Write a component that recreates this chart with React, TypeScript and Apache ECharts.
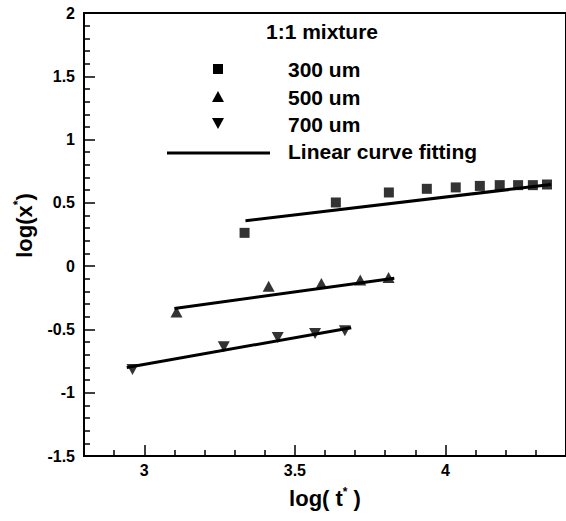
import React, { useEffect, useRef } from 'react';
import * as echarts from 'echarts';

// Measured data (log t*, log x*)
const t300 = [3.333, 3.636, 3.812, 3.938, 4.034, 4.114, 4.18, 4.241, 4.29, 4.337];
const x300 = [0.263, 0.503, 0.582, 0.611, 0.622, 0.634, 0.64, 0.64, 0.64, 0.645];
const t500 = [3.107, 3.413, 3.588, 3.717, 3.811];
const x500 = [-0.363, -0.158, -0.137, -0.11, -0.089];
const t700 = [2.961, 3.264, 3.443, 3.567, 3.666];
const x700 = [-0.816, -0.637, -0.563, -0.532, -0.511];

// Linear fits (end points)
const fitT300 = [3.336, 4.35];
const fitX300 = [0.358, 0.645];
const fitT500 = [3.1, 3.83];
const fitX500 = [-0.335, -0.095];
const fitT700 = [2.942, 3.687];
const fitX700 = [-0.8, -0.487];

const xMajorTicks = [3, 3.5, 4];
const xMinorTicks = [2.9, 3.1, 3.2, 3.3, 3.4, 3.6, 3.7, 3.8, 3.9, 4.1, 4.2, 4.3];

const legendTitle = '1:1 mixture';
const legendNames = ['300 um', '500 um', '700 um', 'Linear curve fitting'];

const pairs = (a: number[], b: number[]) => a.map((v, i) => [v, b[i]]);

export default function App() {
  const ref = useRef<HTMLDivElement>(null);
  useEffect(() => {
    const chart = echarts.init(ref.current!, null, { renderer: 'svg' });
    const font = '"Liberation Sans", Arial, sans-serif';
    const txt = { fontFamily: font, fontWeight: 'bold' as const, color: '#000' };
    const fitStyle = { color: '#000', width: 3 };
    const lf = `bold 21px ${font}`;
    chart.setOption({
      animation: false,
      backgroundColor: '#fff',
      grid: {
        left: 84,
        top: 13,
        width: 485,
        height: 443,
        show: true,
        borderColor: '#000',
        borderWidth: 2,
        backgroundColor: 'transparent',
      },
      xAxis: [
        {
          type: 'value',
          min: 2.8,
          max: 4.4,
          name: 'log( t{s|*} )',
          nameLocation: 'middle',
          nameGap: 30,
          nameTextStyle: {
            ...txt,
            fontSize: 22,
            rich: { s: { ...txt, fontSize: 12, verticalAlign: 'top', lineHeight: 24 } },
          },
          axisLine: { onZero: false, lineStyle: { color: '#000', width: 2 } },
          axisTick: { inside: true, length: 11, customValues: xMajorTicks, lineStyle: { color: '#000', width: 1.5 } },
          axisLabel: { customValues: xMajorTicks, margin: 6, ...txt, fontSize: 16 },
          splitLine: { show: false },
        },
        {
          type: 'value',
          min: 2.8,
          max: 4.4,
          position: 'bottom',
          axisLine: { show: false, onZero: false },
          axisTick: { inside: true, length: 6, customValues: xMinorTicks, lineStyle: { color: '#000', width: 1.5 } },
          axisLabel: { show: false },
          splitLine: { show: false },
        },
      ],
      yAxis: {
        type: 'value',
        min: -1.5,
        max: 2,
        interval: 0.5,
        name: 'log(x{s|*})',
        nameLocation: 'middle',
        nameGap: 48,
        nameTextStyle: {
          ...txt,
          fontSize: 22,
          padding: [0, 0, 0, 18],
          rich: { s: { ...txt, fontSize: 12, verticalAlign: 'top', lineHeight: 24 } },
        },
        axisLine: { onZero: false, lineStyle: { color: '#000', width: 2 } },
        axisTick: { inside: true, length: 11, lineStyle: { color: '#000', width: 1.5 } },
        minorTick: { show: true, splitNumber: 5, length: 6, lineStyle: { color: '#000', width: 1.5 } },
        axisLabel: { margin: 9, ...txt, fontSize: 16 },
        splitLine: { show: false },
        minorSplitLine: { show: false },
      },
      series: [
        {
          name: legendNames[0], type: 'scatter', symbol: 'rect', symbolSize: 10,
          itemStyle: { color: '#000' }, data: pairs(t300, x300), z: 3,
        },
        {
          name: legendNames[1], type: 'scatter', symbol: 'triangle', symbolSize: [12, 11],
          itemStyle: { color: '#000' }, data: pairs(t500, x500), z: 3,
        },
        {
          name: legendNames[2], type: 'scatter', symbol: 'triangle', symbolRotate: 180, symbolSize: [12, 11],
          itemStyle: { color: '#000' }, data: pairs(t700, x700), z: 3,
        },
        {
          name: legendNames[3] + ' (300 um)', type: 'line', showSymbol: false, symbol: 'none',
          lineStyle: fitStyle, data: pairs(fitT300, fitX300), z: 2,
        },
        {
          name: legendNames[3] + ' (500 um)', type: 'line', showSymbol: false, symbol: 'none',
          lineStyle: fitStyle, data: pairs(fitT500, fitX500), z: 2,
        },
        {
          name: legendNames[3] + ' (700 um)', type: 'line', showSymbol: false, symbol: 'none',
          lineStyle: fitStyle, data: pairs(fitT700, fitX700), z: 2,
        },
      ],
      graphic: [
        { type: 'text', x: 266, y: 31, style: { text: legendTitle, fill: '#000', font: lf, textAlign: 'left', textVerticalAlign: 'middle' } },
        { type: 'rect', shape: { x: 213, y: 64, width: 10, height: 10 }, style: { fill: '#000' } },
        { type: 'text', x: 288, y: 69, style: { text: legendNames[0], fill: '#000', font: lf, textAlign: 'left', textVerticalAlign: 'middle' } },
        { type: 'polygon', shape: { points: [[218, 91], [224, 102], [212, 102]] }, style: { fill: '#000' } },
        { type: 'text', x: 288, y: 97, style: { text: legendNames[1], fill: '#000', font: lf, textAlign: 'left', textVerticalAlign: 'middle' } },
        { type: 'polygon', shape: { points: [[212, 118], [224, 118], [218, 129]] }, style: { fill: '#000' } },
        { type: 'text', x: 288, y: 124, style: { text: legendNames[2], fill: '#000', font: lf, textAlign: 'left', textVerticalAlign: 'middle' } },
        { type: 'line', shape: { x1: 167, y1: 153, x2: 270, y2: 153 }, style: { stroke: '#000', lineWidth: 3 } },
        { type: 'text', x: 288, y: 151, style: { text: legendNames[3], fill: '#000', font: lf, textAlign: 'left', textVerticalAlign: 'middle' } },
      ],
    });
    return () => chart.dispose();
  }, []);
  return (
    <div style={{ position: 'absolute', left: 0, top: 0, width: 566, height: 521, overflow: 'hidden', background: '#fff' }}>
      <div ref={ref} style={{ width: 566, height: 521 }} />
    </div>
  );
}
